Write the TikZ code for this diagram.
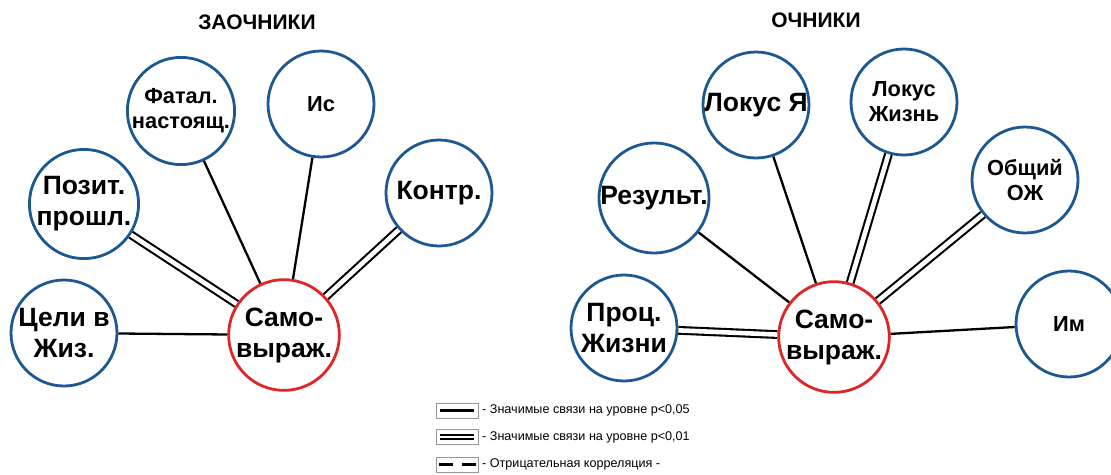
\documentclass[tikz,border=0pt]{standalone}
\usepackage{fontspec}
\setmainfont{Liberation Sans}
\definecolor{cblue}{RGB}{30,88,145}
\definecolor{cred}{RGB}{222,38,38}
\definecolor{lgray}{RGB}{150,150,150}
\tikzset{
  circ/.style={circle, draw=cblue, line width=2.8pt, minimum size=106pt, inner sep=0pt, align=center, font=\bfseries\fontsize{26.5}{31}\selectfont, fill=white},
  small/.style={font=\bfseries\fontsize{21.8}{25}\selectfont},
  center/.style={circ, draw=cred},
  title/.style={font=\bfseries\fontsize{21}{22}\selectfont},
  one/.style={line width=2.3pt, black},
  two/.style={line width=2.1pt, draw=black, double=white, double distance=4.6pt},
  legbox/.style={draw=lgray, line width=0.6pt, minimum width=42pt, minimum height=15pt, inner sep=0pt},
  legtext/.style={anchor=west, font=\fontsize{12.6}{14}\selectfont, inner sep=0pt}
}
\begin{document}
\begin{tikzpicture}[x=1pt,y=-1pt]
\useasboundingbox (0,0) rectangle (1111,474);
% titles
\node[title] (t1) at (257,22) {ЗАОЧНИКИ};
\node[title] (t2) at (816,20) {ОЧНИКИ};
% left panel
\node[center] (s1) at (284,335) {Само-\\выраж.};
\node[circ] (cel) at (64,333) {Цели в\\Жиз.};
\node[circ] (poz) at (84,204) {Позит.\\прошл.};
\node[circ,small] (fat) at (181,111) {Фатал.\\настоящ.};
\node[circ,small] (is) at (321,104) {Ис};
\node[circ] (kon) at (439,193) {Контр.};
% right panel
\node[center] (s2) at (834,337) {Само-\\выраж.};
\node[circ] (pro) at (624,328) {Проц.\\Жизни};
\node[circ] (rez) at (654,198) {Результ.};
\node[circ] (lok) at (756,105) {Локус Я};
\node[circ,small] (loz) at (904,102) {Локус\\Жизнь};
\node[circ,small] (obs) at (1025,180) {Общий\\ОЖ};
\node[circ,small] (im) at (1069,324) {Им};
% connectors left
\draw[one] (cel) -- (s1);
\draw[two] (poz) -- (s1);
\draw[one] (fat) -- (s1);
\draw[one] (is) -- (s1);
\draw[two] (kon) -- (s1);
% connectors right
\draw[two] (pro) -- (s2);
\draw[one] (rez) -- (s2);
\draw[one] (lok) -- (s2);
\draw[two] (loz) -- (s2);
\draw[two] (obs) -- (s2);
\draw[one] (im) -- (s2);
% legend
\node[legbox] (b1) at (457,410.5) {};
\node[legbox] (b2) at (457,437) {};
\node[legbox] (b3) at (457,464.5) {};
\coordinate (b1l) at (440,410.5); \coordinate (b1r) at (474,410.5);
\coordinate (b2l) at (440,437); \coordinate (b2r) at (474,437);
\coordinate (b3l) at (439,464.5); \coordinate (b3r) at (476,464.5);
\draw[line width=2.2pt] (b1l) -- (b1r);
\draw[line width=2.2pt, draw=black, double=white, double distance=2.4pt] (b2l) -- (b2r);
\draw[line width=2.4pt, dash pattern=on 14pt off 9pt] (b3l) -- (b3r);
\node[legtext] (l1) at (482,410.5) {- Значимые связи на уровне р<0,05};
\node[legtext] (l2) at (482,437) {- Значимые связи на уровне р<0,01};
\node[legtext] (l3) at (482,464.5) {- Отрицательная корреляция -};
\end{tikzpicture}
\end{document}
